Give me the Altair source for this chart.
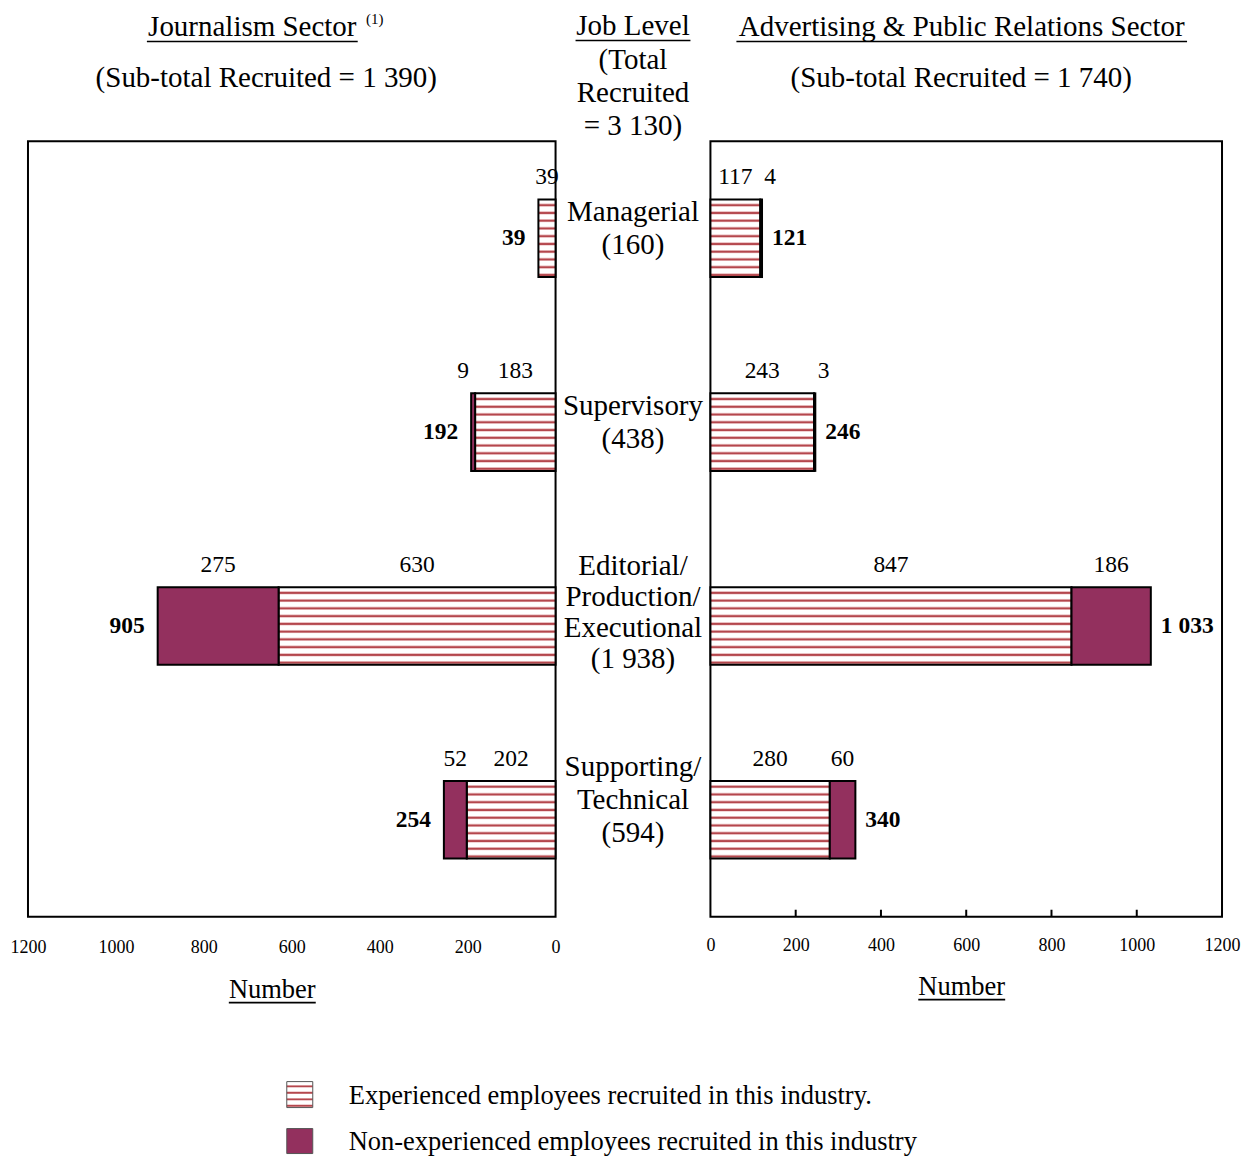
import altair as alt
import pandas as pd

SERIF = "Liberation Serif"

# ---------------- data ----------------
levels = ["Managerial", "Supervisory", "Editorial/Production/Executional", "Supporting/Technical"]
level_text = ["Managerial\n(160)", "Supervisory\n(438)",
              "Editorial/\nProduction/\nExecutional\n(1 938)", "Supporting/\nTechnical\n(594)"]
journ_exp = [39, 183, 630, 202]
journ_non = [0, 9, 275, 52]
journ_total = [39, 192, 905, 254]
journ_total_labels = ["39", "192", "905", "254"]
adv_exp = [117, 243, 847, 280]
adv_non = [4, 3, 186, 60]
adv_total = [121, 246, 1033, 340]
adv_total_labels = ["121", "246", "1 033", "340"]
x_ticks = [0, 200, 400, 600, 800, 1000, 1200]
inner_ticks = [200, 400, 600, 800, 1000]
legend_labels = ["Experienced employees recruited in this industry.",
                 "Non-experienced employees recruited in this industry"]
journ_title = ["Journalism Sector", "(Sub-total Recruited = 1 390)"]
adv_title = ["Advertising & Public Relations Sector", "(Sub-total Recruited = 1 740)"]
center_title = ["Job Level", "(Total\nRecruited\n= 3 130)"]

# ---------------- styles ----------------
NON_COLOR = "#93305e"
WAVE = "#b4474d"
PINK = "#ecc4c6"
PW, CW, RW, H = 528, 155, 512, 776


def stripes(n):
    stops = []
    for i in range(n):
        b = i / n
        stops += [
            {"color": "white", "offset": b},
            {"color": "white", "offset": b + 0.45 / n},
            {"color": PINK, "offset": b + 0.55 / n},
            {"color": WAVE, "offset": b + 0.68 / n},
            {"color": WAVE, "offset": b + 0.80 / n},
            {"color": PINK, "offset": b + 0.90 / n},
            {"color": "white", "offset": b + 0.98 / n},
        ]
    stops.append({"color": "white", "offset": 1})
    return {"gradient": "linear", "x1": 0, "y1": 0, "x2": 0, "y2": 1, "stops": stops}


def seg_frame(exp, non):
    rows = []
    for lv, e, n in zip(levels, exp, non):
        rows.append({"level": lv, "kind": "exp", "start": 0, "end": e, "mid": e / 2, "value": e})
        if n > 0:
            rows.append({"level": lv, "kind": "non", "start": e, "end": e + n, "mid": e + n / 2, "value": n})
    return pd.DataFrame(rows)


Y = alt.Y("level:N", sort=levels,
          scale=alt.Scale(domain=levels, paddingInner=0.6, paddingOuter=0.3), axis=None)


def txt(s, x, y, size=29, align="center", weight="normal"):
    return alt.Chart(pd.DataFrame({"t": [s]})).mark_text(
        font=SERIF, fontSize=size, align=align, baseline="middle", fontWeight=weight,
        lineBreak="\n", lineHeight=33, color="black"
    ).encode(x=alt.value(x), y=alt.value(y), text="t:N")


def uline(x1, x2, y):
    return alt.Chart(pd.DataFrame({"t": [0]})).mark_rule(color="black", strokeWidth=1.6).encode(
        x=alt.value(x1), x2=alt.value(x2), y=alt.value(y))


def panel(exp, non, total, total_labels, left):
    seg = seg_frame(exp, non)
    tot = pd.DataFrame({"level": levels, "total": total, "label": total_labels})
    xs = alt.Scale(domain=[0, 1200], reverse=left, nice=False, zero=True)
    axis = alt.Axis(values=x_ticks, ticks=False, tickSize=0, domain=False, grid=False, title=None,
                    labelFont=SERIF, labelFontSize=18, labelColor="black", labelFlush=False,
                    labelOverlap=False, labelPadding=22 if left else 20, format="d")
    X = alt.X("start:Q", scale=xs, axis=axis)
    exp_bars = alt.Chart(seg[seg.kind == "exp"]).mark_bar(
        fill=stripes(10), stroke="black", strokeWidth=2).encode(x=X, x2="end:Q", y=Y)
    non_bars = alt.Chart(seg[seg.kind == "non"]).mark_bar(
        fill=NON_COLOR, stroke="black", strokeWidth=2).encode(x=X, x2="end:Q", y=Y)
    small = (seg.kind == "non") & (seg.value < 20)
    seg_lab = alt.Chart(seg[~small]).mark_text(
        font=SERIF, fontSize=23.5, dy=-61, color="black").encode(
        x=alt.X("mid:Q", scale=xs), y=Y, text="value:Q")
    seg_small = alt.Chart(seg[small]).mark_text(
        font=SERIF, fontSize=23.5, dy=-61, dx=-10 if left else 9, color="black").encode(
        x=alt.X("mid:Q", scale=xs), y=Y, text="value:Q")
    tot_lab = alt.Chart(tot).mark_text(
        font=SERIF, fontSize=23.5, fontWeight="bold", color="black",
        align="right" if left else "left", dx=-13 if left else 10).encode(
        x=alt.X("total:Q", scale=xs), y=Y, text="label:N")
    layers = [exp_bars, non_bars, seg_lab, seg_small, tot_lab]
    if left:
        layers += [
            txt(journ_title[0], 224.5, -114), uline(119, 330, -100),
            txt("(1)", 347, -122, size=15),
            txt(journ_title[1], 238.5, -63),
            txt("Number", 244.5, 849, size=26.5), uline(201, 288, 862),
        ]
        # legend
        sw1 = alt.Chart(pd.DataFrame({"t": [0]})).mark_rect(
            fill=stripes(4), stroke="#555555", strokeWidth=1).encode(
            x=alt.value(259), x2=alt.value(285), y=alt.value(941), y2=alt.value(967))
        sw2 = alt.Chart(pd.DataFrame({"t": [0]})).mark_rect(
            fill=NON_COLOR, stroke="#555555", strokeWidth=1).encode(
            x=alt.value(259), x2=alt.value(285), y=alt.value(988), y2=alt.value(1013))
        layers += [sw1, sw2,
                   txt(legend_labels[0], 321, 955, size=26.5, align="left"),
                   txt(legend_labels[1], 321, 1001, size=26.5, align="left")]
    else:
        ticks = alt.Chart(pd.DataFrame({"t": inner_ticks})).mark_rule(
            color="black", strokeWidth=2).encode(
            x=alt.X("t:Q", scale=xs), y=alt.value(H), y2=alt.value(H - 7))
        layers += [
            ticks,
            txt(adv_title[0], 251.5, -114), uline(26, 477, -100),
            txt(adv_title[1], 251, -63),
            txt("Number", 251.5, 846, size=26.5), uline(208, 295, 859),
        ]
    return alt.layer(*layers).properties(width=RW if not left else PW, height=H)


left_panel = panel(journ_exp, journ_non, journ_total, journ_total_labels, True)
right_panel = panel(adv_exp, adv_non, adv_total, adv_total_labels, False)

center_df = pd.DataFrame({"level": levels, "t": level_text})
center_df["n"] = center_df["t"].str.count("\n") + 1
center_layers = []
for n_lines, dy, lh in [(2, -26, 33), (3, -53, 33), (4, -60, 31)]:
    center_layers.append(
        alt.Chart(center_df[center_df.n == n_lines]).mark_text(
            font=SERIF, fontSize=29, lineBreak="\n", lineHeight=lh, dy=dy, color="black").encode(
            x=alt.value(CW / 2), y=Y, text="t:N"))
center_panel = alt.layer(
    *center_layers,
    txt(center_title[0], 77.5, -115), uline(20, 135, -101),
    txt(center_title[1], 77.5, -81),
).properties(width=CW, height=H, view=alt.ViewBackground(strokeOpacity=0))

chart = alt.hconcat(left_panel, center_panel, right_panel, spacing=0, bounds="flush").properties(
    padding={"left": 1, "top": 3, "right": 0, "bottom": 0}
).configure(background="white", view=alt.ViewConfig(stroke="black", strokeWidth=2))

chart.save("out.html", embed_options={"renderer": "svg", "actions": False})
